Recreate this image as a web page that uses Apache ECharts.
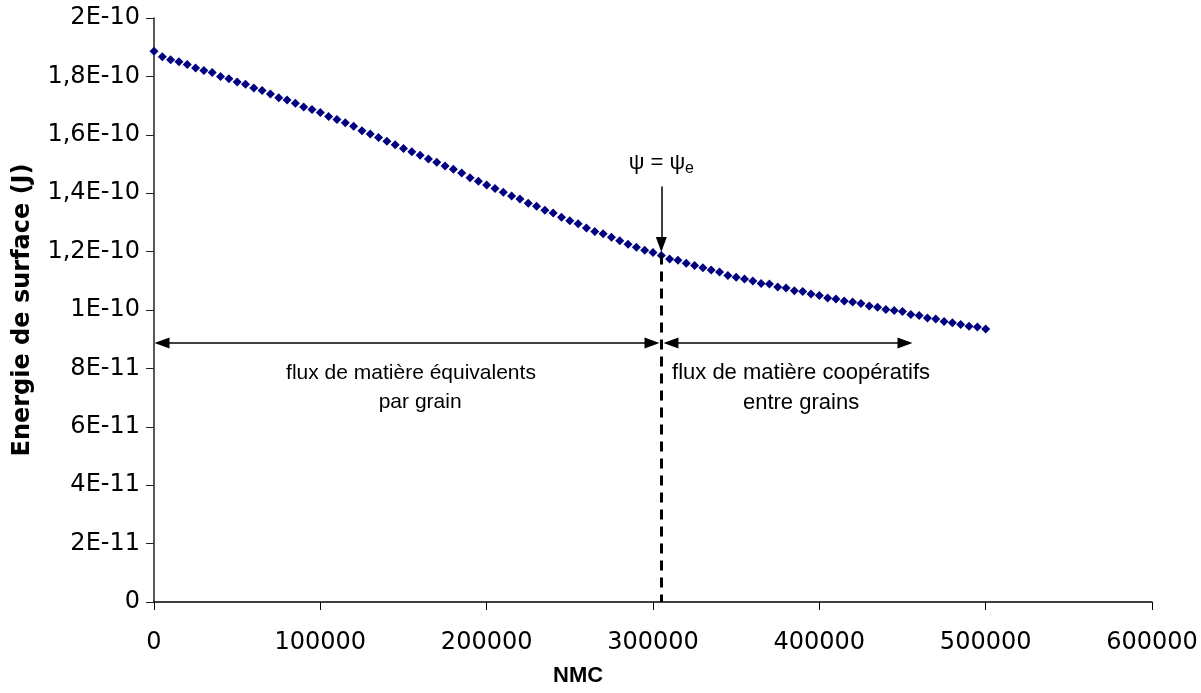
<!DOCTYPE html>
<head>
    <meta charset="utf-8">
    <title>Energie de surface</title>
    <script type="text/javascript" src="https://cdn.jsdelivr.net/npm/echarts@6/dist/echarts.min.js"></script>
</head>
<body style="margin:0">
<div id="main" style="width:1201px;height:693px"></div>
<script type="text/javascript">
// abscisse : NMC
var nmc = [0, 5000, 10000, 15000, 20000, 25000, 30000, 35000, 40000, 45000,
    50000, 55000, 60000, 65000, 70000, 75000, 80000, 85000, 90000, 95000,
    100000, 105000, 110000, 115000, 120000, 125000, 130000, 135000, 140000, 145000,
    150000, 155000, 160000, 165000, 170000, 175000, 180000, 185000, 190000, 195000,
    200000, 205000, 210000, 215000, 220000, 225000, 230000, 235000, 240000, 245000,
    250000, 255000, 260000, 265000, 270000, 275000, 280000, 285000, 290000, 295000,
    300000, 305000, 310000, 315000, 320000, 325000, 330000, 335000, 340000, 345000,
    350000, 355000, 360000, 365000, 370000, 375000, 380000, 385000, 390000, 395000,
    400000, 405000, 410000, 415000, 420000, 425000, 430000, 435000, 440000, 445000,
    450000, 455000, 460000, 465000, 470000, 475000, 480000, 485000, 490000, 495000,
    500000];
// energie de surface, en 1E-10 J
var energie = [1.886, 1.867, 1.857, 1.850, 1.841, 1.829, 1.820, 1.813, 1.800, 1.792,
    1.781, 1.773, 1.760, 1.752, 1.740, 1.727, 1.719, 1.708, 1.695, 1.687,
    1.676, 1.663, 1.652, 1.641, 1.629, 1.614, 1.603, 1.591, 1.578, 1.566,
    1.553, 1.542, 1.530, 1.517, 1.506, 1.493, 1.482, 1.469, 1.453, 1.441,
    1.428, 1.416, 1.403, 1.390, 1.380, 1.366, 1.355, 1.342, 1.332, 1.318,
    1.306, 1.295, 1.281, 1.269, 1.261, 1.249, 1.237, 1.225, 1.215, 1.205,
    1.197, 1.187, 1.175, 1.170, 1.160, 1.152, 1.145, 1.137, 1.130, 1.118,
    1.112, 1.106, 1.099, 1.091, 1.089, 1.079, 1.075, 1.066, 1.063, 1.055,
    1.050, 1.041, 1.038, 1.031, 1.027, 1.022, 1.014, 1.009, 1.002, 0.998,
    0.995, 0.985, 0.981, 0.973, 0.969, 0.961, 0.956, 0.950, 0.944, 0.942,
    0.935];
var yLabels = ['0', '2E-11', '4E-11', '6E-11', '8E-11', '1E-10', '1,2E-10', '1,4E-10', '1,6E-10', '1,8E-10', '2E-10'];
var xLabels = ['0', '100000', '200000', '300000', '400000', '500000', '600000'];

var myChart = echarts.init(document.getElementById('main'));

var points = [];
for (var i = 0; i < nmc.length; i++) {
    points.push([nmc[i], energie[i]]);
}

var tickFont = {fontFamily: 'DejaVu Sans', fontSize: 24, color: '#000'};
var textFont = 'Liberation Sans';

var option = {
    animation: false,
    backgroundColor: '#fff',
    grid: {left: 154, right: 49, top: 18, bottom: 91},
    xAxis: {
        type: 'value', min: 0, max: 600000, interval: 100000,
        axisLine: {show: true, lineStyle: {color: '#000', width: 1.5}},
        axisTick: {show: true, length: 8, lineStyle: {color: '#000'}},
        axisLabel: Object.assign({margin: 29, formatter: function (v) {
            return xLabels[Math.round(v / 100000)];
        }}, tickFont),
        splitLine: {show: false}
    },
    yAxis: {
        type: 'value', min: 0, max: 2, interval: 0.2,
        name: 'Energie de surface (J)', nameLocation: 'middle', nameGap: 119, nameRotate: 90,
        nameTextStyle: {fontFamily: 'DejaVu Sans', fontSize: 24, fontWeight: 'bold', color: '#000'},
        axisLine: {show: true, lineStyle: {color: '#222', width: 1.5}},
        axisTick: {show: true, length: 8, lineStyle: {color: '#222'}},
        axisLabel: Object.assign({margin: 14, formatter: function (v) {
            return yLabels[Math.round(v / 0.2)];
        }}, tickFont),
        splitLine: {show: false}
    },
    series: [{
        type: 'scatter',
        symbol: 'diamond',
        symbolSize: 9,
        itemStyle: {color: '#000080', opacity: 1},
        data: points,
        markLine: {
            silent: true,
            animation: false,
            symbol: ['none', 'none'],
            symbolSize: [11, 15],
            label: {show: false},
            lineStyle: {color: '#000', width: 1.5, type: 'solid'},
            emphasis: {disabled: true},
            data: [
                // fleche verticale psi = psi_e
                [{coord: [305000, 1.423], symbol: 'none'},
                 {coord: [305000, 1.224], symbol: 'triangle'}],
                // pointillés jusqu'a l'axe
                [{coord: [305000, 1.19], symbol: 'none', lineStyle: {type: [10, 7], width: 3}},
                 {coord: [305000, 0], symbol: 'none'}],
                // flux equivalents
                [{coord: [4800, 0.887], symbol: 'triangle'},
                 {coord: [299400, 0.887], symbol: 'triangle'}],
                // flux cooperatifs
                [{coord: [310800, 0.887], symbol: 'triangle'},
                 {coord: [451500, 0.887], symbol: 'triangle'}]
            ]
        }
    }]
};
myChart.setOption(option);

// textes d'annotation, places en coordonnees de donnees
function txt(x, y, content, size, rich) {
    var p = myChart.convertToPixel({gridIndex: 0}, [x, y]);
    return {
        type: 'text', x: p[0], y: p[1], z: 10,
        style: {
            text: content, align: 'center', verticalAlign: 'middle',
            fontFamily: textFont, fontSize: size, fill: '#000', rich: rich
        }
    };
}
myChart.setOption({
    graphic: [
        txt(305000, 1.504, '{a|ψ = ψ}{s|e}', 22, {
            a: {fontFamily: textFont, fontSize: 22, fill: '#000', verticalAlign: 'bottom'},
            s: {fontFamily: textFont, fontSize: 16, fill: '#000', verticalAlign: 'bottom', padding: [0, 0, -3, 0]}
        }),
        txt(154500, 0.785, 'flux de matière équivalents', 21),
        txt(160000, 0.683, 'par grain', 21),
        txt(389000, 0.785, 'flux de matière coopératifs', 22),
        txt(389000, 0.683, 'entre grains', 22),
        // titre de l'axe des abscisses (decale a gauche comme dans l'original)
        {
            type: 'text', left: 553, top: 665,
            style: {text: 'NMC', fontFamily: textFont, fontSize: 22, fontWeight: 'bold', fill: '#000'}
        }
    ]
});
</script>
</body>
